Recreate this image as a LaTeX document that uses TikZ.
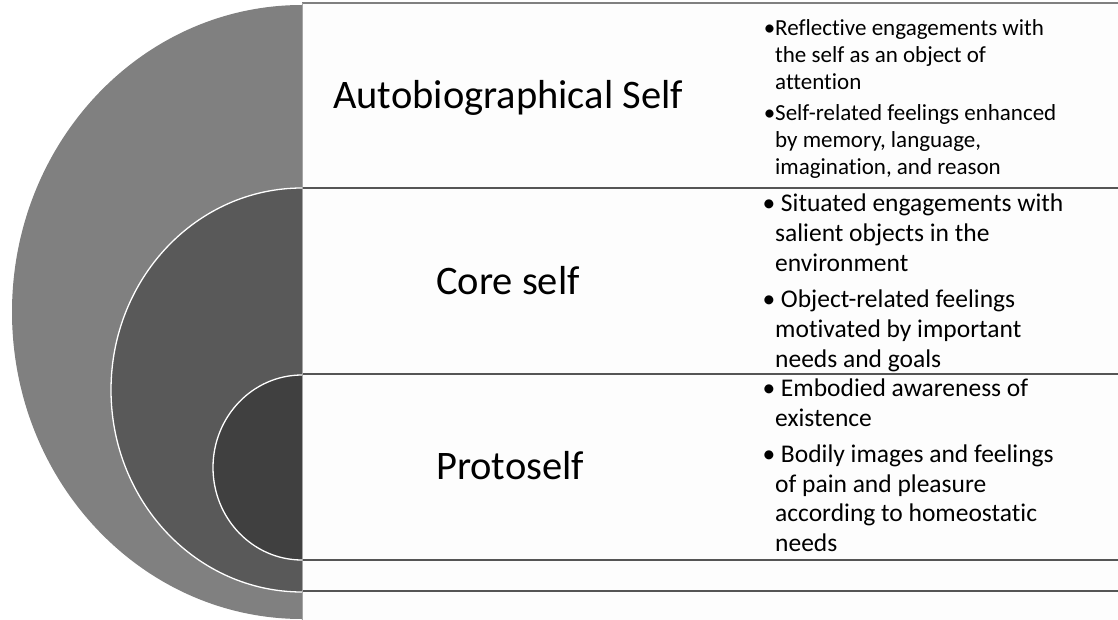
\documentclass[tikz,border=0pt]{standalone}
\usepackage{fontspec}
\setmainfont{Carlito}[Ligatures=NoCommon]
\usetikzlibrary{positioning}
\definecolor{ringA}{HTML}{808080}
\definecolor{ringB}{HTML}{595959}
\definecolor{ringC}{HTML}{404040}
\definecolor{rowline}{HTML}{555555}
\definecolor{rowfill}{HTML}{FDFDFD}
\newcommand{\bul}{\llap{\textbullet}}

\begin{document}
\begin{tikzpicture}[x=1pt,y=-1pt,
    title/.style={anchor=base west, inner sep=0pt, font=\fontsize{40.5}{48}\selectfont},
    notes/.style={anchor=north west, align=left, inner sep=0pt},
    ring/.style={draw=white, line width=1.3pt}]
  \useasboundingbox (0,0) rectangle (1118,620);
  \clip (0,0) rectangle (1118,620);
  % nested rings on the left
  \fill[ringA] (302,312) ellipse (290 and 307);
  \filldraw[fill=ringB, ring] (302,390) ellipse (191 and 202);
  \filldraw[fill=ringC, ring] (302,467.5) ellipse (89 and 92.5);
  % rows on the right
  \fill[rowfill] (302,3) rectangle (1118,620);
  \draw[gray, line width=1.5pt] (302,3) -- (1118,3);
  \foreach \y in {188,374,560,591}
    \draw[rowline, line width=2pt] (302,\y) -- (1118,\y);
  \draw[gray!70, line width=1pt] (302.5,3) -- (302.5,620);
  % labels
  \node[title] (auto) at (333,109) {Autobiographical Self};
  \node[title] (core) at (436,294) {Core self};
  \node[title] (proto) at (436,479) {Protoself};
  \node[notes, font=\fontsize{23}{27.3}\selectfont] (autonotes) at (775,19)
    {\bul Reflective engagements with\\ the self as an object of\\ attention\\[3pt]
     \bul Self-related feelings enhanced\\ by memory, language,\\ imagination, and reason};
  \node[notes, font=\fontsize{25.5}{30}\selectfont] (corenotes) at (775,194)
    {\bul\ Situated engagements with\\ salient objects in the\\ environment\\[6pt]
     \bul\ Object-related feelings\\ motivated by important\\ needs and goals};
  \node[notes, font=\fontsize{25.5}{29.5}\selectfont] (protonotes) at (775,379)
    {\bul\ Embodied awareness of\\ existence\\[7pt]
     \bul\ Bodily images and feelings\\ of pain and pleasure\\ according to homeostatic\\ needs};
\end{tikzpicture}
\end{document}
